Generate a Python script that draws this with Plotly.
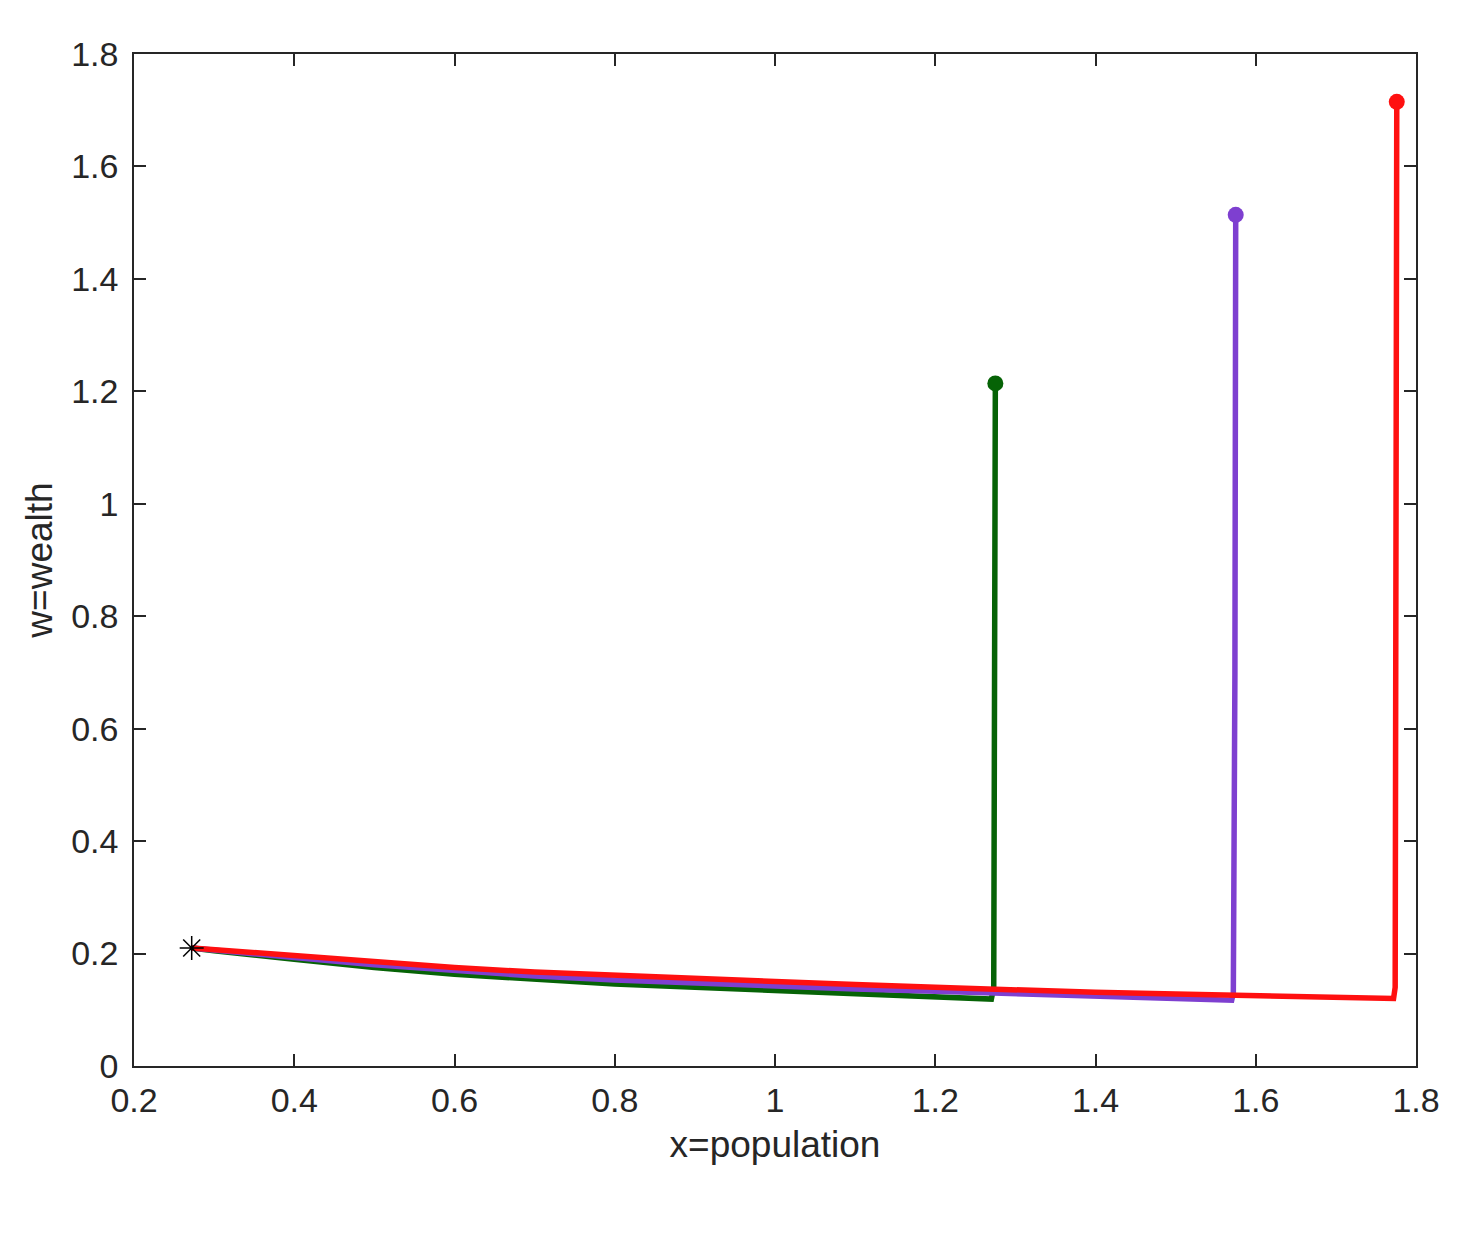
import plotly.graph_objects as go

# equilibrium point (star)
star_x = [0.272]
star_w = [0.21]

# green trajectory
green_x = [0.272, 0.3, 0.4, 0.5, 0.6, 0.7, 0.8, 0.9, 1.0, 1.1, 1.2, 1.27,
           1.273, 1.274, 1.275]
green_w = [0.21, 0.205, 0.190, 0.175, 0.163, 0.154, 0.146, 0.140, 0.134, 0.129, 0.124, 0.119,
           0.14, 0.6, 1.214]

# purple trajectory
purple_x = [0.272, 0.3, 0.4, 0.5, 0.6, 0.7, 0.8, 0.9, 1.0, 1.1, 1.2, 1.3, 1.4, 1.5, 1.57,
            1.572, 1.574, 1.575]
purple_w = [0.21, 0.206, 0.193, 0.180, 0.169, 0.160, 0.153, 0.147, 0.141, 0.137, 0.133, 0.129, 0.125, 0.121, 0.117,
            0.13, 0.7, 1.514]

# red trajectory
red_x = [0.272, 0.3, 0.4, 0.5, 0.6, 0.7, 0.8, 0.9, 1.0, 1.1, 1.2, 1.3, 1.4, 1.5, 1.6, 1.7, 1.772,
         1.774, 1.775, 1.776]
red_w = [0.21, 0.207, 0.196, 0.185, 0.175, 0.167, 0.161, 0.155, 0.150, 0.145, 0.140, 0.135, 0.131, 0.128, 0.125, 0.122, 0.120,
         0.14, 0.8, 1.715]

x_ticks = [0.2, 0.4, 0.6, 0.8, 1, 1.2, 1.4, 1.6, 1.8]
x_labels = ['0.2', '0.4', '0.6', '0.8', '1', '1.2', '1.4', '1.6', '1.8']
w_ticks = [0, 0.2, 0.4, 0.6, 0.8, 1, 1.2, 1.4, 1.6, 1.8]
w_labels = ['0', '0.2', '0.4', '0.6', '0.8', '1', '1.2', '1.4', '1.6', '1.8']

fig = go.Figure()

for xs, ws, col in [(green_x, green_w, '#066306'),
                    (purple_x, purple_w, '#7e3fd0'),
                    (red_x, red_w, '#ff1010')]:
    fig.add_trace(go.Scatter(x=xs, y=ws, mode='lines', line=dict(color=col, width=5.5)))
    fig.add_trace(go.Scatter(x=[xs[-1]], y=[ws[-1]], mode='markers',
                             marker=dict(color=col, size=16)))

fig.add_trace(go.Scatter(x=star_x, y=star_w, mode='markers',
                         marker=dict(symbol='asterisk-open', color='black', size=20,
                                     line=dict(color='black', width=1.5))))

font_name = 'Liberation Sans, Arial'
axis_style = dict(showgrid=False, zeroline=False, showline=True, mirror='ticks',
                  linecolor='#262626', linewidth=1.5, ticks='inside', ticklen=12,
                  tickcolor='#262626', tickwidth=1.5,
                  tickfont=dict(family=font_name, size=34, color='#262626'))

fig.update_xaxes(range=[0.2, 1.8], tickvals=x_ticks, ticktext=x_labels,
                 ticklabelstandoff=3,
                 title=dict(text='x=population', standoff=14,
                            font=dict(family=font_name, size=37, color='#262626')),
                 **axis_style)
fig.update_yaxes(range=[0, 1.8], tickvals=w_ticks, ticktext=w_labels,
                 ticklabelstandoff=7,
                 title=dict(text='w=wealth', standoff=7,
                            font=dict(family=font_name, size=37, color='#262626')),
                 **axis_style)

fig.update_layout(width=1460, height=1224, showlegend=False,
                  margin=dict(l=126, r=52, t=46, b=166),
                  paper_bgcolor='white', plot_bgcolor='white')

fig.write_html("out.html")
